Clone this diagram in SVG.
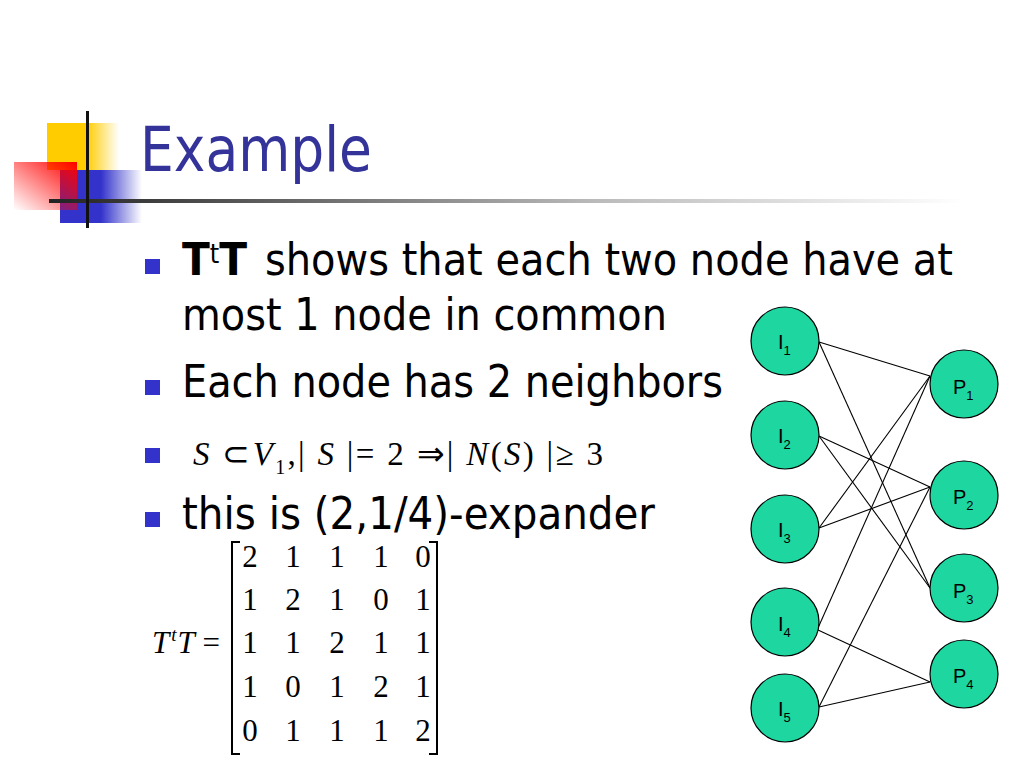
<svg xmlns="http://www.w3.org/2000/svg" width="1024" height="768" viewBox="0 0 1024 768">
<defs>
<style>
.title{font-family:"DejaVu Sans","Liberation Sans",sans-serif;font-size:62px;fill:#333399}
.body{font-family:"DejaVu Sans","Liberation Sans",sans-serif;font-size:44px;fill:#000}
.math{font-family:"Liberation Serif","Times New Roman",serif;font-size:33px;fill:#000}
.mx{font-family:"Liberation Serif","Times New Roman",serif;font-size:31px;fill:#000}
.bullet{fill:#3333CC}
.node{fill:#1DD6A0;stroke:#000;stroke-width:1.2}
.lbl{font-family:"Liberation Sans",Arial,sans-serif;font-size:20px;fill:#000}
.sub{font-size:13px}
.edge{stroke:#000;stroke-width:1.1;fill:none}
.br{stroke:#000;stroke-width:2;fill:none}
</style>
<linearGradient id="gy" x1="0" y1="0" x2="1" y2="0"><stop offset="0" stop-color="#FFCC00"/><stop offset="0.55" stop-color="#FFCC00"/><stop offset="1" stop-color="#FFCC00" stop-opacity="0"/></linearGradient>
<linearGradient id="gb" x1="0" y1="0" x2="1" y2="0"><stop offset="0" stop-color="#3333CC"/><stop offset="0.5" stop-color="#3333CC"/><stop offset="1" stop-color="#3333CC" stop-opacity="0"/></linearGradient>
<linearGradient id="gr" x1="1" y1="0" x2="0" y2="1"><stop offset="0" stop-color="#FF0000"/><stop offset="1" stop-color="#FF0000" stop-opacity="0"/></linearGradient>
<linearGradient id="gl" x1="0" y1="0" x2="1" y2="0"><stop offset="0" stop-color="#222"/><stop offset="0.6" stop-color="#bbb"/><stop offset="1" stop-color="#fff"/></linearGradient>
</defs>
<rect width="1024" height="768" fill="#fff"/>
<g id="logo">
<rect x="47" y="123" width="72" height="47" fill="url(#gy)"/>
<rect x="60" y="170" width="82" height="53" fill="url(#gb)"/>
<rect x="14" y="162" width="63" height="48" fill="url(#gr)"/>
<rect x="49" y="199" width="915" height="4" fill="url(#gl)"/>
<rect x="86" y="111" width="3" height="117" fill="#111"/>
</g>
<text class="title" x="140" y="171" textLength="232" lengthAdjust="spacingAndGlyphs">Example</text>
<g id="bullets">
<rect class="bullet" x="145" y="259" width="15" height="15"/>
<rect class="bullet" x="145" y="380" width="15" height="15"/>
<rect class="bullet" x="145" y="448" width="15" height="15"/>
<rect class="bullet" x="145" y="512" width="15" height="15"/>
</g>
<g id="text">
<text class="body" x="182" y="275" textLength="65" lengthAdjust="spacingAndGlyphs"><tspan font-weight="bold">T</tspan><tspan font-size="26" dy="-12">t</tspan><tspan font-weight="bold" dy="12">T</tspan></text>
<text class="body" x="265" y="275" textLength="688" lengthAdjust="spacingAndGlyphs">shows that each two node have at</text>
<text class="body" x="182" y="330" textLength="485" lengthAdjust="spacingAndGlyphs">most 1 node in common</text>
<text class="body" x="182" y="397" textLength="541" lengthAdjust="spacingAndGlyphs">Each node has 2 neighbors</text>
<text class="math" x="193" y="465" textLength="410" lengthAdjust="spacing"><tspan font-style="italic">S</tspan> ⊂<tspan font-style="italic">V</tspan><tspan font-size="20" dy="9">1</tspan><tspan dy="-9">,| </tspan><tspan font-style="italic">S</tspan> |= 2 ⇒| <tspan font-style="italic">N</tspan>(<tspan font-style="italic">S</tspan>) |≥ 3</text>
<text class="body" x="182" y="529" textLength="473" lengthAdjust="spacingAndGlyphs">this is (2,1/4)-expander</text>
</g>
<g id="matrix">
<text class="mx" x="152" y="653"><tspan font-style="italic">T</tspan><tspan font-style="italic" font-size="19" dx="2" dy="-12">t</tspan><tspan font-style="italic" dx="1" dy="12">T</tspan> =</text>
<path class="br" d="M240 542 H232 V754 H240"/>
<path class="br" d="M429 542 H437 V754 H429"/>
<g class="mx" text-anchor="middle">
<text x="250" y="567">2</text><text x="293" y="567">1</text><text x="337" y="567">1</text><text x="381" y="567">1</text><text x="423" y="567">0</text>
<text x="250" y="610">1</text><text x="293" y="610">2</text><text x="337" y="610">1</text><text x="381" y="610">0</text><text x="423" y="610">1</text>
<text x="250" y="653">1</text><text x="293" y="653">1</text><text x="337" y="653">2</text><text x="381" y="653">1</text><text x="423" y="653">1</text>
<text x="250" y="697">1</text><text x="293" y="697">0</text><text x="337" y="697">1</text><text x="381" y="697">2</text><text x="423" y="697">1</text>
<text x="250" y="741">0</text><text x="293" y="741">1</text><text x="337" y="741">1</text><text x="381" y="741">1</text><text x="423" y="741">2</text>
</g>
</g>
<g id="connectors">
<line class="edge" x1="819" y1="342" x2="930" y2="376"/>
<line class="edge" x1="819" y1="342" x2="930" y2="588"/>
<line class="edge" x1="819" y1="436" x2="930" y2="487"/>
<line class="edge" x1="819" y1="436" x2="930" y2="588"/>
<line class="edge" x1="819" y1="528" x2="930" y2="376"/>
<line class="edge" x1="819" y1="528" x2="930" y2="487"/>
<line class="edge" x1="818" y1="628" x2="930" y2="376"/>
<line class="edge" x1="818" y1="630" x2="930" y2="682"/>
<line class="edge" x1="819" y1="707" x2="930" y2="487"/>
<line class="edge" x1="819" y1="707" x2="930" y2="682"/>
</g>
<g id="I1"><circle class="node" cx="785" cy="341" r="34"/><text class="lbl" x="778" y="349">I<tspan class="sub" dy="6">1</tspan></text></g>
<g id="I2"><circle class="node" cx="785" cy="435" r="34"/><text class="lbl" x="778" y="443">I<tspan class="sub" dy="6">2</tspan></text></g>
<g id="I3"><circle class="node" cx="785" cy="529" r="34"/><text class="lbl" x="778" y="537">I<tspan class="sub" dy="6">3</tspan></text></g>
<g id="I4"><circle class="node" cx="785" cy="622" r="34"/><text class="lbl" x="778" y="631">I<tspan class="sub" dy="6">4</tspan></text></g>
<g id="I5"><circle class="node" cx="785" cy="708" r="34"/><text class="lbl" x="778" y="716">I<tspan class="sub" dy="6">5</tspan></text></g>
<g id="P1"><circle class="node" cx="964" cy="384" r="34"/><text class="lbl" x="953" y="394">P<tspan class="sub" dy="6">1</tspan></text></g>
<g id="P2"><circle class="node" cx="964" cy="495" r="34"/><text class="lbl" x="953" y="504">P<tspan class="sub" dy="6">2</tspan></text></g>
<g id="P3"><circle class="node" cx="964" cy="588" r="34"/><text class="lbl" x="953" y="598">P<tspan class="sub" dy="6">3</tspan></text></g>
<g id="P4"><circle class="node" cx="964" cy="674" r="34"/><text class="lbl" x="953" y="683">P<tspan class="sub" dy="6">4</tspan></text></g>
</svg>
